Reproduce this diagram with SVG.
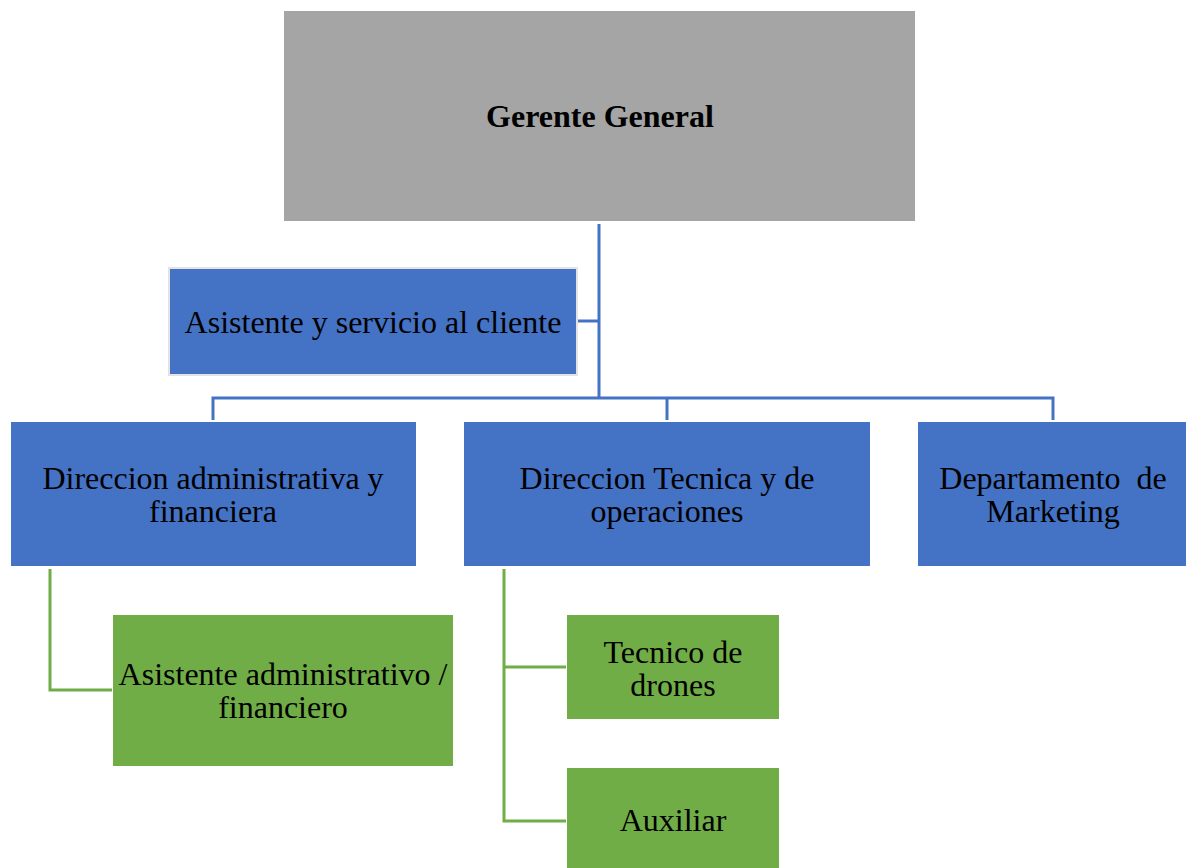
<svg xmlns="http://www.w3.org/2000/svg" width="1186" height="868" viewBox="0 0 1186 868">
<style>
.blue{fill:#4472C4;}
.green{fill:#70AD47;}
.gray{fill:#A5A5A5;}
.t{font-family:"Liberation Serif","Times New Roman",serif;font-size:32px;fill:#000;text-anchor:middle;}
.b{font-weight:bold;}
.cb{fill:none;stroke:#4472C4;stroke-width:3;}
.cg{fill:none;stroke:#70AD47;stroke-width:3;}
</style>
<rect width="1186" height="868" fill="#fff"/>
<g id="connectors">
<path class="cb" d="M599,224 V398 M577,321 H599 M213,420 V398 H1053 V420 M667,398 V420"/>
<path class="cg" d="M50,569 V690 H112"/>
<path class="cg" d="M504,569 V821 H566 M504,667 H566"/>
</g>
<g id="gerente">
<rect class="gray" x="284" y="11" width="631" height="210"/>
<text class="t b" x="600" y="127">Gerente General</text>
</g>
<g id="asistente-cliente">
<rect class="blue" x="169" y="268" width="408" height="107" stroke="#E3E3E3" stroke-width="2"/>
<text class="t" x="373" y="333">Asistente y servicio al cliente</text>
</g>
<g id="dir-admin">
<rect class="blue" x="11" y="422" width="405" height="144"/>
<text class="t" x="213" y="489">Direccion administrativa y</text>
<text class="t" x="213" y="522">financiera</text>
</g>
<g id="dir-tecnica">
<rect class="blue" x="464" y="422" width="406" height="144"/>
<text class="t" x="667" y="489">Direccion Tecnica y de</text>
<text class="t" x="667" y="522">operaciones</text>
</g>
<g id="marketing">
<rect class="blue" x="918" y="422" width="268" height="144"/>
<text class="t" x="1053" y="489" xml:space="preserve">Departamento  de</text>
<text class="t" x="1053" y="522">Marketing</text>
</g>
<g id="asist-admin">
<rect class="green" x="113" y="615" width="340" height="151"/>
<text class="t" x="283" y="685">Asistente administrativo /</text>
<text class="t" x="283" y="718">financiero</text>
</g>
<g id="tecnico">
<rect class="green" x="567" y="615" width="212" height="104"/>
<text class="t" x="673" y="663">Tecnico de</text>
<text class="t" x="673" y="696">drones</text>
</g>
<g id="auxiliar">
<rect class="green" x="567" y="768" width="212" height="100"/>
<text class="t" x="673" y="831">Auxiliar</text>
</g>
</svg>
